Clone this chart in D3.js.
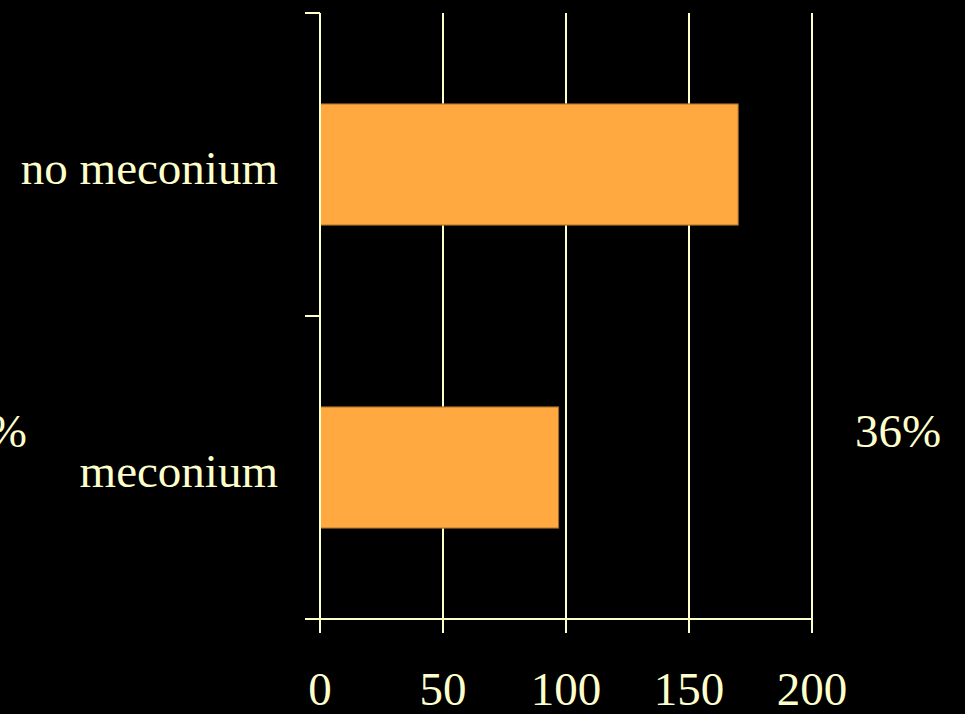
<!DOCTYPE html>
<html>
<head>
<meta charset="utf-8">
<script src="https://cdn.jsdelivr.net/npm/d3@7"></script>
<style>
html,body{margin:0;padding:0;background:#000;}
svg{display:block;}
text{font-family:"Liberation Serif","Times New Roman",serif;fill:#FFFFCC;}
</style>
</head>
<body>
<svg id="c" width="965" height="714"></svg>
<script>
const categories = ["no meconium", "meconium"];
const values = [170, 97];
const xTicks = [0, 50, 100, 150, 200];
const sideLabels = ["64%", "36%"];

const svg = d3.select("#c");
const lineColor = "#FFFFCC";
const barColor = "#FFA940";
const fontSize = 47;

const x = d3.scaleLinear().domain([0, 200]).range([320, 812]);
const y = d3.scaleBand().domain(categories).range([13, 619]).paddingInner(0.6).paddingOuter(0.3);
const yb = d3.scaleBand().domain(categories).range([13, 619]).padding(0);

// gridlines
svg.append("g").selectAll("line").data(xTicks.slice(1)).join("line")
  .attr("x1", d => x(d)).attr("x2", d => x(d))
  .attr("y1", 13).attr("y2", 619)
  .attr("stroke", lineColor).attr("stroke-width", 2);

// bars
svg.append("g").selectAll("rect").data(categories).join("rect")
  .attr("x", x(0))
  .attr("y", d => y(d))
  .attr("width", (d, i) => x(values[i]) - x(0))
  .attr("height", y.bandwidth())
  .attr("fill", barColor)
  .attr("stroke", "#9A6426").attr("stroke-width", 1);

// y axis line
svg.append("line").attr("x1", x(0)).attr("x2", x(0)).attr("y1", 13).attr("y2", 633)
  .attr("stroke", lineColor).attr("stroke-width", 2);
// y ticks at band boundaries
const yTickPos = categories.map(c => yb(c));
svg.append("g").selectAll("line").data(yTickPos).join("line")
  .attr("x1", 305).attr("x2", x(0))
  .attr("y1", d => d).attr("y2", d => d)
  .attr("stroke", lineColor).attr("stroke-width", 2);

// x axis line
svg.append("line").attr("x1", 305).attr("x2", x(200)).attr("y1", 619).attr("y2", 619)
  .attr("stroke", lineColor).attr("stroke-width", 2);
svg.append("g").selectAll("line").data(xTicks).join("line")
  .attr("x1", d => x(d)).attr("x2", d => x(d))
  .attr("y1", 619).attr("y2", 633)
  .attr("stroke", lineColor).attr("stroke-width", 2);

// x tick labels
svg.append("g").selectAll("text").data(xTicks).join("text")
  .attr("x", d => x(d)).attr("y", 705)
  .attr("text-anchor", "middle").attr("font-size", fontSize)
  .text(d => d);

// category labels
svg.append("g").selectAll("text").data(categories).join("text")
  .attr("x", 278).attr("y", d => yb(d) + yb.bandwidth() / 2 + 19)
  .attr("text-anchor", "end").attr("font-size", fontSize)
  .text(d => d);

// side percentage labels
svg.append("text").attr("x", 27).attr("y", 447).attr("text-anchor", "end")
  .attr("font-size", fontSize).text(sideLabels[0]);
svg.append("text").attr("x", 855).attr("y", 447).attr("text-anchor", "start")
  .attr("font-size", fontSize).text(sideLabels[1]);
</script>
</body>
</html>
